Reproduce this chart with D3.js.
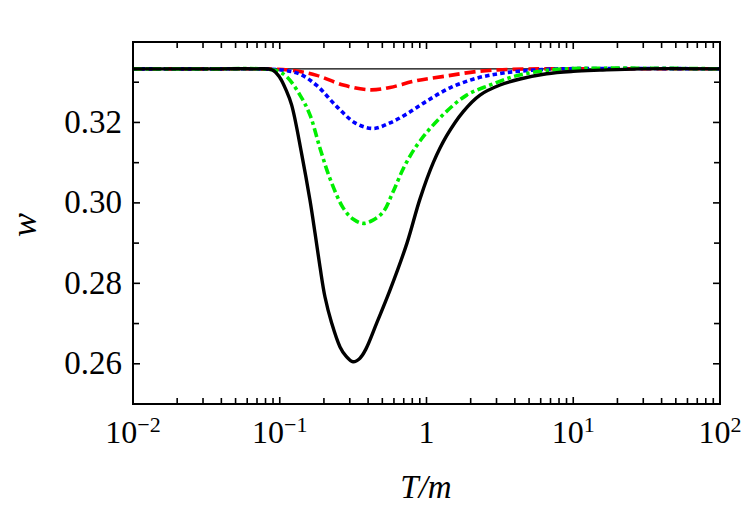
<!DOCTYPE html>
<html>
<head>
<meta charset="utf-8">
<script src="https://cdn.jsdelivr.net/npm/d3@7"></script>
<style>
html,body{margin:0;padding:0;background:#fff;}
svg{display:block;}
text{font-family:"Liberation Serif","Times New Roman",serif;fill:#000;}
</style>
</head>
<body>
<svg id="chart" width="750" height="521"></svg>
<script>
// ---- data ----
const xDomain = [0.01, 100];
const yDomain = [0.25, 0.34];
const yMajorTicks = [0.26, 0.28, 0.30, 0.32];
const yMinorTicks = [0.25, 0.27, 0.29, 0.31, 0.33];
const yTickLabels = ["0.26", "0.28", "0.30", "0.32"];
const xMajorTicks = [0.01, 0.1, 1, 10, 100];
const xTickBase = ["10", "10", "1", "10", "10"];
const xTickExp = ["\u22122", "\u22121", "", "1", "2"];
const wFree = 1 / 3;

const blackT = [0.01, 0.04, 0.068, 0.0886, 0.1, 0.1103, 0.1206, 0.141, 0.1606, 0.1739, 0.188, 0.2034, 0.226, 0.2574, 0.2828, 0.3155, 0.3522, 0.387, 0.4576, 0.564, 0.7363, 0.903, 1.112, 1.373, 1.78, 2.315, 3.17, 4.34, 6.59, 10, 15.2, 28.5, 100];
const blackW = [0.33333, 0.33333, 0.33333, 0.3331, 0.3312, 0.3281, 0.3243, 0.3122, 0.3007, 0.2925, 0.2841, 0.2766, 0.2701, 0.2642, 0.2619, 0.2605, 0.2614, 0.2637, 0.2701, 0.2783, 0.2900, 0.3010, 0.3100, 0.3167, 0.3227, 0.3268, 0.3293, 0.3308, 0.3321, 0.3327, 0.3330, 0.33333, 0.33333];

const greenT = [0.01, 0.04, 0.072, 0.0958, 0.1114, 0.1374, 0.1606, 0.188, 0.2197, 0.271, 0.3155, 0.371, 0.4318, 0.508, 0.591, 0.714, 0.903, 1.296, 1.879, 2.71, 3.904, 5.64, 9.05, 100];
const greenW = [0.33333, 0.33333, 0.33333, 0.3328, 0.3314, 0.3268, 0.3219, 0.3136, 0.3061, 0.2987, 0.2960, 0.2949, 0.2957, 0.2978, 0.3027, 0.3094, 0.3154, 0.3219, 0.3268, 0.3293, 0.3314, 0.3326, 0.33333, 0.33333];

const blueT = [0.01, 0.04, 0.072, 0.1052, 0.1374, 0.1786, 0.244, 0.326, 0.434, 0.564, 0.733, 1.003, 1.446, 2.198, 3.34, 5.32, 8.2, 100];
const blueW = [0.33333, 0.33333, 0.33333, 0.3330, 0.3320, 0.3292, 0.3240, 0.3199, 0.3185, 0.3199, 0.3221, 0.3253, 0.3286, 0.3310, 0.3323, 0.3330, 0.33333, 0.33333];

const redT = [0.01, 0.04, 0.07, 0.1175, 0.1786, 0.271, 0.412, 0.564, 0.835, 1.337, 2.244, 3.83, 6.5, 100];
const redW = [0.33333, 0.33333, 0.33333, 0.3330, 0.3317, 0.3293, 0.3281, 0.3287, 0.3303, 0.3315, 0.3327, 0.3332, 0.33333, 0.33333];

// ---- layout ----
const svg = d3.select("#chart");
const L = 133, R = 720, Tp = 42, B = 404;
const x = d3.scaleLog().domain(xDomain).range([L, R]);
const y = d3.scaleLinear().domain(yDomain).range([B, Tp]);

svg.append("defs").append("clipPath").attr("id", "clip")
  .append("rect").attr("x", L).attr("y", Tp).attr("width", R - L).attr("height", B - Tp);

const curves = svg.append("g").attr("clip-path", "url(#clip)");

// reference line at w = 1/3
curves.append("line")
  .attr("x1", x(xDomain[0])).attr("x2", x(xDomain[1]))
  .attr("y1", y(wFree)).attr("y2", y(wFree))
  .attr("stroke", "#000").attr("stroke-width", 1.2);

const line = d3.line().x(d => x(d[0])).y(d => y(d[1])).curve(d3.curveCatmullRom.alpha(0.5));
const series = [
  {T: redT, W: redW, color: "#ff0000", dash: "11,5", width: 3.6},
  {T: blueT, W: blueW, color: "#0000ff", dash: "4.5,3.2", width: 3.6},
  {T: greenT, W: greenW, color: "#00ee00", dash: "9,3.5,3.5,3.5", width: 3.6},
  {T: blackT, W: blackW, color: "#000000", dash: null, width: 3.4}
];
series.forEach(s => {
  const pts = s.T.map((t, i) => [t, Math.min(s.W[i], wFree)]);
  curves.append("path")
    .attr("d", line(pts))
    .attr("fill", "none")
    .attr("stroke", s.color)
    .attr("stroke-width", s.width)
    .attr("stroke-dasharray", s.dash)
    .attr("stroke-linejoin", "round");
});

// ---- axes (ticks inward, mirrored) ----
const tickG = svg.append("g").attr("stroke", "#000").attr("stroke-width", 1.6);
const majLen = 7, minLen = 6;
yMajorTicks.concat(yMinorTicks).forEach(v => {
  const len = yMajorTicks.includes(v) ? majLen : minLen;
  tickG.append("line").attr("x1", L).attr("x2", L + len).attr("y1", y(v)).attr("y2", y(v));
  tickG.append("line").attr("x1", R).attr("x2", R - len).attr("y1", y(v)).attr("y2", y(v));
});
const xMinor = [];
for (let e = -2; e < 2; e++) for (let k = 2; k <= 9; k++) xMinor.push(k * Math.pow(10, e));
xMajorTicks.concat(xMinor).forEach(v => {
  const len = xMajorTicks.includes(v) ? majLen : minLen;
  tickG.append("line").attr("x1", x(v)).attr("x2", x(v)).attr("y1", B).attr("y2", B - len);
  tickG.append("line").attr("x1", x(v)).attr("x2", x(v)).attr("y1", Tp).attr("y2", Tp + len);
});

// frame
svg.append("rect").attr("x", L).attr("y", Tp).attr("width", R - L).attr("height", B - Tp)
  .attr("fill", "none").attr("stroke", "#000").attr("stroke-width", 2);

// y tick labels
yMajorTicks.forEach((v, i) => {
  svg.append("text").attr("x", 122).attr("y", y(v) + 10.5)
    .attr("text-anchor", "end").attr("font-size", 33).text(yTickLabels[i]);
});

// x tick labels
xMajorTicks.forEach((v, i) => {
  const t = svg.append("text").attr("x", x(v)).attr("y", 443)
    .attr("text-anchor", "middle").attr("font-size", 32);
  t.append("tspan").text(xTickBase[i]);
  if (xTickExp[i]) {
    t.append("tspan").attr("dy", -11).attr("font-size", 22).text(xTickExp[i]);
  }
});

// axis titles
svg.append("text").attr("x", 426).attr("y", 498).attr("text-anchor", "middle")
  .attr("font-size", 33).attr("font-style", "italic").text("T/m");
svg.append("text").attr("transform", "translate(36,225) rotate(-90)")
  .attr("text-anchor", "middle").attr("font-size", 36).attr("font-style", "italic").text("w");
</script>
</body>
</html>
